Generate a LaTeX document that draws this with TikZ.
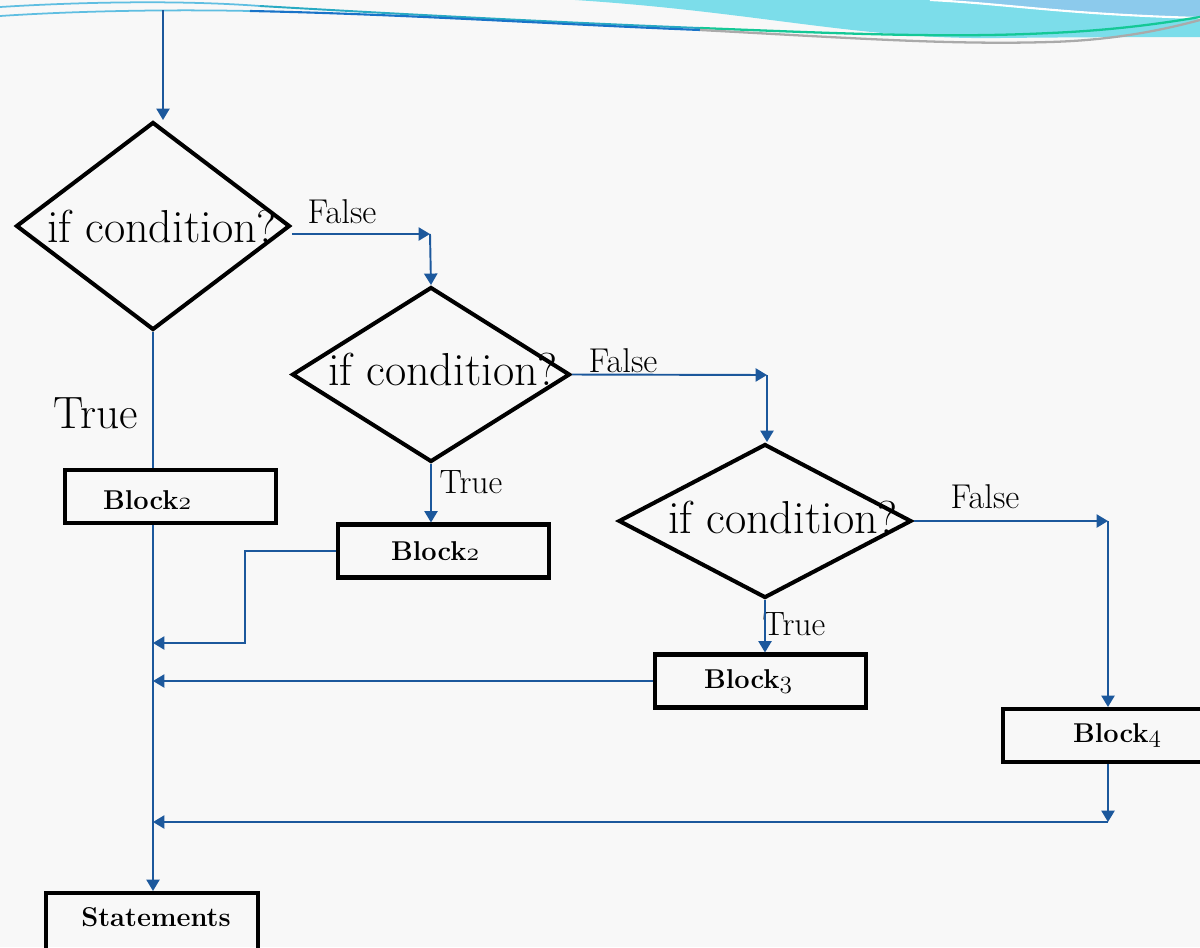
\documentclass[tikz,border=0pt]{standalone}
\usetikzlibrary{shapes.geometric,arrows.meta}
\definecolor{flow}{RGB}{28,88,156}
\definecolor{bgpaper}{RGB}{248,248,248}
\definecolor{wavecyan}{RGB}{124,221,234}
\definecolor{waveblue}{RGB}{140,202,236}
\definecolor{wavegreen}{RGB}{20,200,150}
\definecolor{wavegray}{RGB}{170,170,170}
\definecolor{wavelight}{RGB}{95,190,225}
\definecolor{wavedeep}{RGB}{25,115,200}
\definecolor{waveteal}{RGB}{40,170,195}
% old-style bold figures
\newcommand\bnum[1]{{\fontencoding{OML}\fontfamily{lmm}\fontseries{b}\fontshape{it}\selectfont #1}}
\begin{document}
\begin{tikzpicture}[x=0.02cm,y=-0.02cm,
  flowline/.style={draw=flow,line width=1.1pt},
  arr/.style={flowline,-{Triangle[length=6.5pt,width=7.5pt]}},
  decision/.style={diamond,draw=black,line width=2.3pt,inner sep=0pt},
  blockbox/.style={rectangle,draw=black,line width=2.3pt,inner sep=0pt,
                   minimum width=4.22cm,minimum height=1.06cm},
  blocktext/.style={font=\fontsize{15.5}{18}\selectfont\bfseries},
  condtext/.style={font=\fontsize{26.3}{31}\selectfont},
  falsetext/.style={font=\fontsize{19.6}{23}\selectfont},
  truetext/.style={font=\fontsize{19.2}{23}\selectfont},
  bigtrue/.style={font=\fontsize{25.8}{30}\selectfont}]

% page
\fill[bgpaper] (0,0) rectangle (1200,947);
\useasboundingbox (0,0) rectangle (1200,947);

% header waves
\fill[wavecyan] (575,0) .. controls (760,12) and (860,40) .. (1000,38)
  .. controls (1100,37) and (1160,37) .. (1200,37) -- (1200,0) -- cycle;
\fill[waveblue] (930,0) .. controls (1010,4) and (1060,14) .. (1200,18) -- (1200,0) -- cycle;
\draw[white,line width=1.2pt] (930,0) .. controls (1010,4) and (1060,14) .. (1200,18);
\draw[wavelight,line width=1pt] (0,7) .. controls (80,2) and (180,0) .. (260,6);
\draw[waveteal,line width=1.1pt] (260,6) .. controls (400,14) and (550,22) .. (700,28);
\draw[wavegreen,line width=1.3pt] (700,28) .. controls (850,34) and (950,38) .. (1050,33)
  .. controls (1120,30) and (1170,22) .. (1200,17);
\draw[wavelight,line width=1pt] (0,16) .. controls (60,12) and (150,9) .. (250,11);
\draw[wavedeep,line width=1.2pt] (250,11) .. controls (400,14) and (550,24) .. (700,30);
\draw[wavegray,line width=1.3pt] (700,30) .. controls (850,38) and (950,45) .. (1050,42)
  .. controls (1120,40) and (1170,28) .. (1200,20);

% decisions
\node[decision,minimum width=5.48cm,minimum height=4.16cm,
      label={[condtext,xshift=0.18cm]center:if condition?}] (d1) at (153,226) {};
\node[decision,minimum width=5.56cm,minimum height=3.5cm,
      label={[condtext,xshift=0.24cm,yshift=0.1cm]center:if condition?}] (d2) at (431,374.5) {};
\node[decision,minimum width=5.86cm,minimum height=3.08cm,
      label={[condtext,xshift=0.36cm,yshift=0.08cm]center:if condition?}] (d3) at (765,521) {};

% blocks
\node[blockbox,label={[blocktext,xshift=-0.47cm,yshift=-0.07cm]center:Block\bnum{2}}] (b2a) at (170.5,496.5) {};
\node[blockbox,label={[blocktext,xshift=-0.17cm]center:Block\bnum{2}}] (b2b) at (443.5,551) {};
\node[blockbox,label={[blocktext,xshift=-0.25cm]center:Block\bnum{3}}] (b3) at (760.5,681) {};
\node[blockbox,minimum width=4.44cm,label={[blocktext,xshift=0.06cm]center:Block\bnum{4}}] (b4) at (1114,735.5) {};
\node[blockbox,minimum width=4.24cm,minimum height=1.14cm,
      label={[blocktext,xshift=0.08cm,yshift=0.09cm]center:Statements}] (st) at (152,921.5) {};

% branch labels
\node[falsetext] (fl1) at (342,212) {False};
\node[falsetext] (fl2) at (623,361) {False};
\node[falsetext] (fl3) at (985,497) {False};
\node[bigtrue] (tl1) at (96,413) {True};
\node[truetext] (tl2) at (471,482) {True};
\node[truetext] (tl3) at (794,624) {True};

% bends
\coordinate (start) at (163,10);
\coordinate (f1) at (430,234);
\coordinate (f2) at (767,375);
\coordinate (f3) at (1108,521);
\coordinate (m1) at (245,643);
\coordinate (f4) at (1108,822);

% connectors
\draw[arr] (start) -- (start |- d1.north);
\draw[arr] (d1.east |- f1) -- (f1);
\draw[arr] (f1) -- (d2.north);
\draw[arr] (d2.east) -- (f2);
\draw[arr] (f2) -- (f2 |- d3.north);
\draw[arr] (d3.east) -- (f3);
\draw[arr] (f3) -- (f3 |- b4.north);
\draw[flowline] (d1.south) -- (d1.south |- b2a.north);
\draw[arr] (d1.south |- b2a.south) -- (d1.south |- st.north);
\draw[arr] (d2.south) -- (d2.south |- b2b.north);
\draw[arr] (d3.south) -- (d3.south |- b3.north);
\draw[arr] (b2b.west) -| (m1) -- (d1.south |- m1);
\draw[arr] (b3.west) -- (d1.south |- b3.west);
\draw[arr] (f3 |- b4.south) -- (f4);
\draw[arr] (f4) -- (d1.south |- f4);
\end{tikzpicture}
\end{document}
